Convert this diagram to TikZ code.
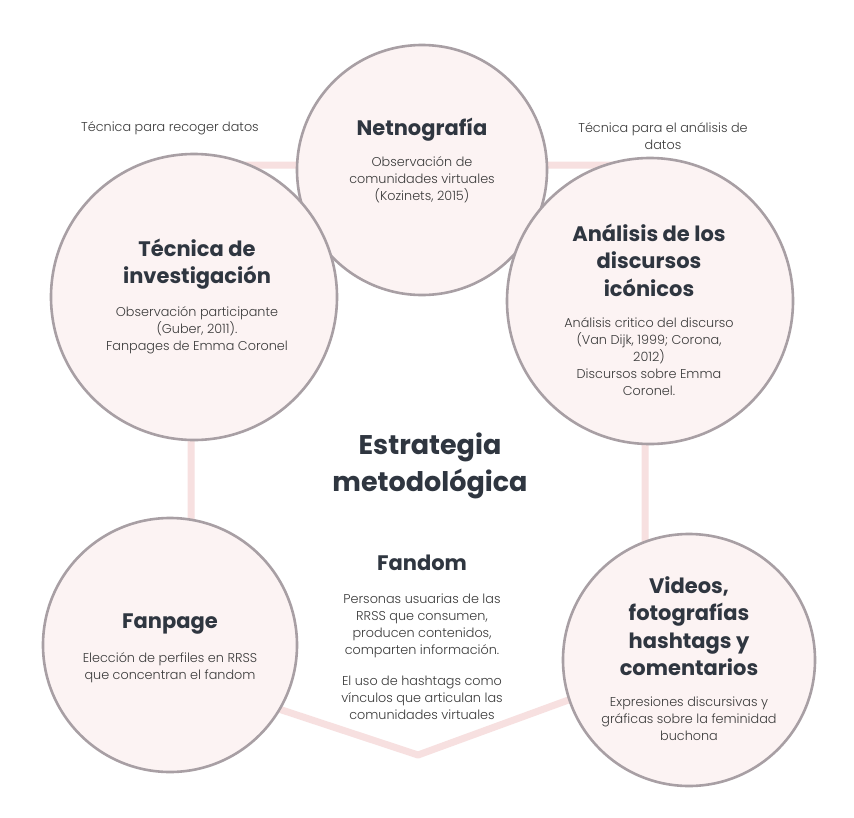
\documentclass[tikz,border=0pt]{standalone}
\usepackage{fontspec}
\setmainfont{Poppins}
\newfontfamily\lightfont{Poppins Light}
\definecolor{pinkline}{HTML}{F7E0E0}
\definecolor{cfill}{HTML}{FCF3F3}
\definecolor{cborder}{HTML}{A89FA4}
\definecolor{titlec}{HTML}{2F3640}
\definecolor{bodyc}{HTML}{3A3A3A}
\tikzset{
  bubble/.style={circle, draw=cborder, fill=cfill, line width=2.6pt, inner sep=0pt, minimum size=#1},
  ttl/.style={align=center, text=titlec, font=\bfseries\fontsize{21}{27.5}\selectfont, inner sep=0pt},
  bigttl/.style={align=center, text=titlec, font=\bfseries\fontsize{27}{37}\selectfont, inner sep=0pt},
  body/.style={align=center, text=bodyc, font=\lightfont\fontsize{12.8}{17}\selectfont, inner sep=0pt},
  link/.style={draw=pinkline, line width=7pt, line join=round}
}
\begin{document}
\begin{tikzpicture}[x=1pt,y=-1pt]
\useasboundingbox (0,0) rectangle (854,817);
\fill[white] (0,0) rectangle (854,817);
% hexagon coordinates
\coordinate (v1) at (191,165);
\coordinate (v2) at (645,165);
\coordinate (v3) at (645,672);
\coordinate (v4) at (418,755);
\coordinate (v5) at (191,680);
\draw[link] (v1) -- (v2) -- (v3) -- (v4) -- (v5) -- cycle;
% circles
\node[bubble=250pt] (net) at (422,170) {};
\node[bubble=286pt] (tec) at (194,297) {};
\node[bubble=286pt] (ana) at (650,301) {};
\node[bubble=254pt] (fan) at (170,645) {};
\node[bubble=252pt] (vid) at (689,660) {};
% labels outside
\node[body] (l1) at (170,128) {Técnica para recoger datos};
\node[body] (l2) at (663,136.5) {Técnica para el análisis de\\datos};
% Netnografia
\node[ttl] (nett) at (422,130) {Netnografía};
\node[body] (netb) at (422,180) {Observación de\\comunidades virtuales\\(Kozinets, 2015)};
% Tecnica
\node[ttl] (tect) at (197,264) {Técnica de\\investigación};
\node[body] (tecb) at (197,330) {Observación participante\\(Guber, 2011).\\Fanpages de Emma Coronel};
% Analisis
\node[ttl] (anat) at (649,260) {Análisis de los\\discursos\\icónicos};
\node[body] (anab) at (649,356.5) {Análisis critico del discurso\\(Van Dijk, 1999; Corona,\\2012)\\Discursos sobre Emma\\Coronel.};
% center
\node[bigttl] (est) at (430,466) {Estrategia\\metodológica};
\node[ttl] (fdt) at (422,563) {Fandom};
\node[body] (fdb1) at (422,626) {Personas usuarias de las\\RRSS que consumen,\\producen contenidos,\\comparten información.};
\node[body] (fdb2) at (422,698) {El uso de hashtags como\\vínculos que articulan las\\comunidades virtuales};
% Fanpage
\node[ttl] (fant) at (170,624) {Fanpage};
\node[body] (fanb) at (170,668) {Elección de perfiles en RRSS\\que concentran el fandom};
% Videos
\node[ttl] (vidt) at (689,626) {Videos,\\fotografías\\hashtags y\\comentarios};
\node[body] (vidb) at (689,718.5) {Expresiones discursivas y\\gráficas sobre la feminidad\\buchona};
\end{tikzpicture}
\end{document}
